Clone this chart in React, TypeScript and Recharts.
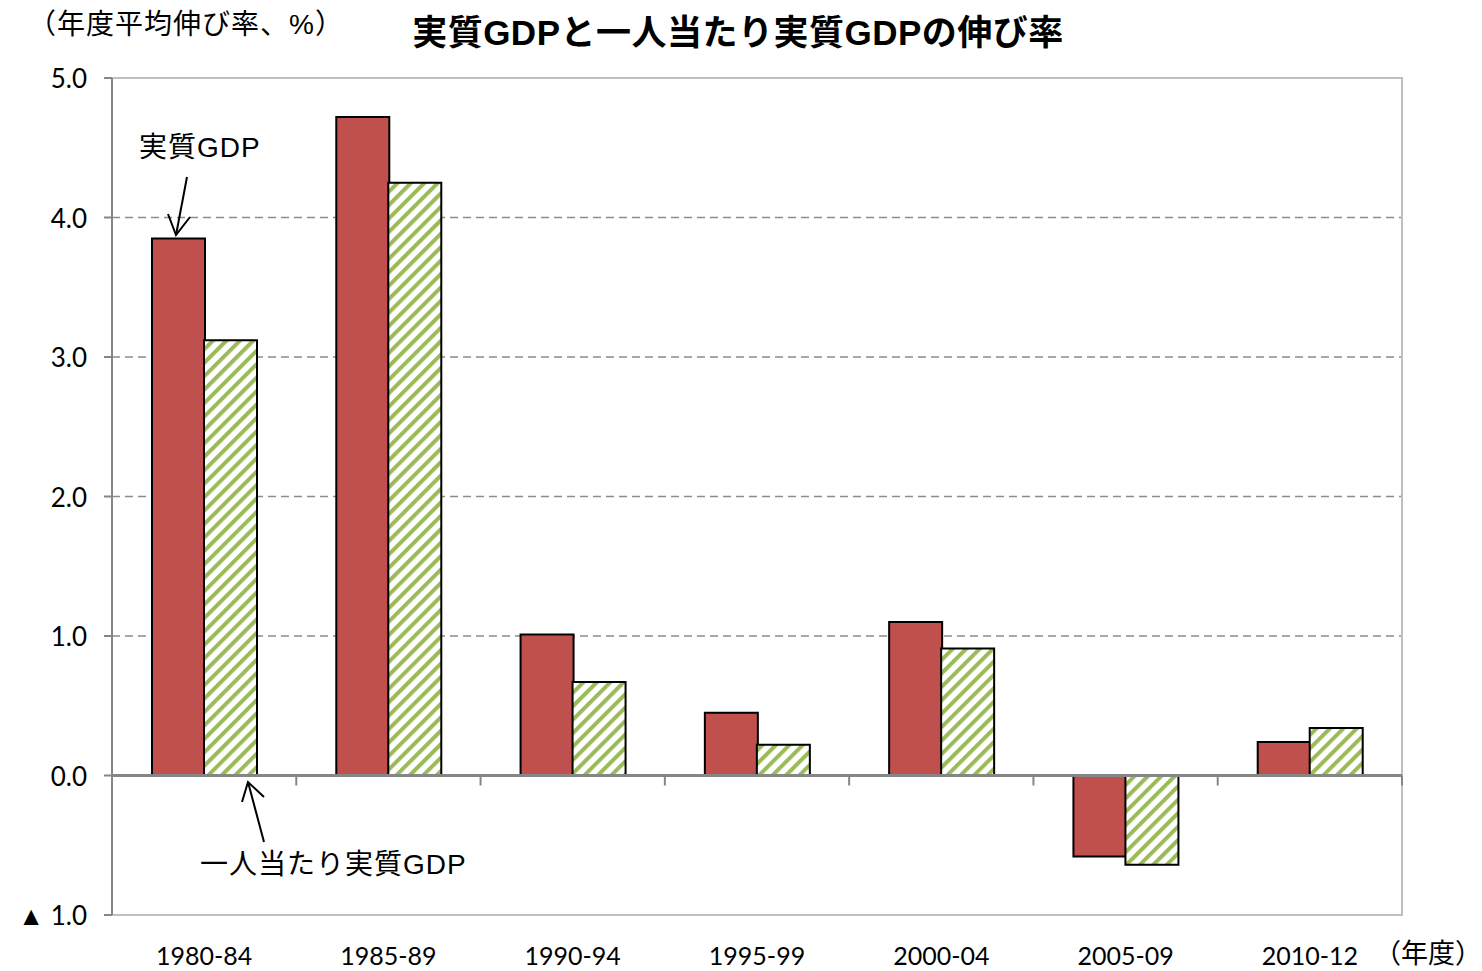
import React from 'react';
import {
  BarChart,
  Bar,
  XAxis,
  YAxis,
  CartesianGrid,
  ReferenceLine,
  ReferenceArea,
} from 'recharts';

const periods = ['1980-84', '1985-89', '1990-94', '1995-99', '2000-04', '2005-09', '2010-12'];
const realGdp = [3.85, 4.72, 1.01, 0.45, 1.1, -0.58, 0.24];
const perCapitaGdp = [3.12, 4.25, 0.67, 0.22, 0.91, -0.64, 0.34];
const yTicks = [-1, 0, 1, 2, 3, 4, 5];

const data = periods.map((p, i) => ({ period: p, real: realGdp[i], perCapita: perCapitaGdp[i] }));

// latin letters fall to Liberation Sans (wider), kana/kanji to Noto CJK
const JP = '"Liberation Sans", "Noto Sans CJK JP", sans-serif';
const NUM = 'Lato, "Liberation Sans", sans-serif';

const fmtY = (v: number) => (v < 0 ? `▲  ${Math.abs(v).toFixed(1)}` : v.toFixed(1));

const YTick = (props: any) => (
  <text
    x={props.x}
    y={props.y}
    textAnchor="end"
    dominantBaseline="central"
    fontFamily={NUM}
    fontSize={26}
    fill="#000"
  >
    {fmtY(props.payload.value)}
  </text>
);

const XTick = (props: any) => (
  <text
    x={props.x}
    y={props.y + 40}
    textAnchor="middle"
    dominantBaseline="central"
    fontFamily={NUM}
    fontSize={25}
    fill="#000"
  >
    {props.payload.value}
  </text>
);

// zero line with small tick marks at the category boundaries
const ZeroLine = (props: any) => {
  const { x1, y1, x2, y2 } = props;
  const step = (x2 - x1) / periods.length;
  const marks = [];
  for (let i = 1; i <= periods.length; i++) {
    const x = x1 + step * i;
    marks.push(<line key={i} x1={x} y1={y1} x2={x} y2={y1 + 10} stroke="#868686" strokeWidth={2} />);
  }
  return (
    <g>
      <line x1={x1} y1={y1} x2={x2} y2={y2} stroke="#868686" strokeWidth={3} />
      {marks}
    </g>
  );
};

const note: React.CSSProperties = {
  position: 'absolute',
  fontFamily: JP,
  fontSize: 28,
  lineHeight: '36px',
  color: '#000',
  whiteSpace: 'nowrap',
};

export default function App() {
  return (
    <div style={{ position: 'absolute', left: 0, top: 0, width: 1482, height: 971, background: '#fff' }}>
      <div style={{ ...note, left: 28, top: 7, fontSize: 28, letterSpacing: 1 }}>（年度平均伸び率、%）</div>
      <div
        style={{
          ...note,
          left: 0,
          width: 1476,
          top: 11,
          textAlign: 'center',
          fontSize: 35,
          fontWeight: 700,
          lineHeight: '44px',
          letterSpacing: 0.5,
        }}
      >
        実質GDPと一人当たり実質GDPの伸び率
      </div>
      <BarChart
        width={1482}
        height={971}
        data={data}
        margin={{ top: 78, right: 80, bottom: 0, left: 52 }}
        barGap={-1}
        barSize={53}
      >
        <defs>
          <pattern
            id="stripes"
            patternUnits="userSpaceOnUse"
            width={9.5}
            height={9.5}
            patternTransform="rotate(45)"
          >
            <rect x={0} y={0} width={9.5} height={9.5} fill="#fff" />
            <rect x={0} y={0} width={4} height={9.5} fill="#9BBB59" />
          </pattern>
        </defs>
        <ReferenceArea y1={-1} y2={5} fill="none" stroke="#BFBFBF" strokeWidth={2} />
        <CartesianGrid vertical={false} stroke="#8C8C8C" strokeDasharray="8 5" strokeWidth={1.5} />
        <XAxis
          dataKey="period"
          height={56}
          axisLine={{ stroke: '#BFBFBF', strokeWidth: 2 }}
          tickLine={false}
          tickSize={0}
          tickMargin={0}
          tick={<XTick />}
          interval={0}
        />
        <YAxis
          width={60}
          domain={[-1, 5]}
          ticks={yTicks}
          interval={0}
          axisLine={{ stroke: '#868686', strokeWidth: 2 }}
          tickLine={{ stroke: '#868686', strokeWidth: 2 }}
          tickSize={8}
          tickMargin={17}
          tick={<YTick />}
        />
        <ReferenceLine y={0} shape={<ZeroLine />} />
        <Bar dataKey="real" fill="#C0504D" stroke="#000" strokeWidth={2} isAnimationActive={false} />
        <Bar dataKey="perCapita" fill="url(#stripes)" stroke="#000" strokeWidth={2} isAnimationActive={false} />
      </BarChart>
      <div style={{ ...note, left: 139, top: 130, letterSpacing: 1 }}>実質GDP</div>
      <div style={{ ...note, left: 200, top: 847, letterSpacing: 1 }}>一人当たり実質GDP</div>
      <div style={{ ...note, right: 0, top: 936, fontSize: 27 }}>（年度）</div>
      <svg
        width={1482}
        height={971}
        style={{ position: 'absolute', left: 0, top: 0, pointerEvents: 'none' }}
      >
        <g stroke="#000" strokeWidth={2} fill="none">
          <line x1={187} y1={177} x2={176} y2={235} />
          <polyline points="168,214 176,235 190,217" />
          <line x1={264} y1={842} x2={248} y2={782} />
          <polyline points="242,802 248,782 264,797" />
        </g>
      </svg>
    </div>
  );
}
